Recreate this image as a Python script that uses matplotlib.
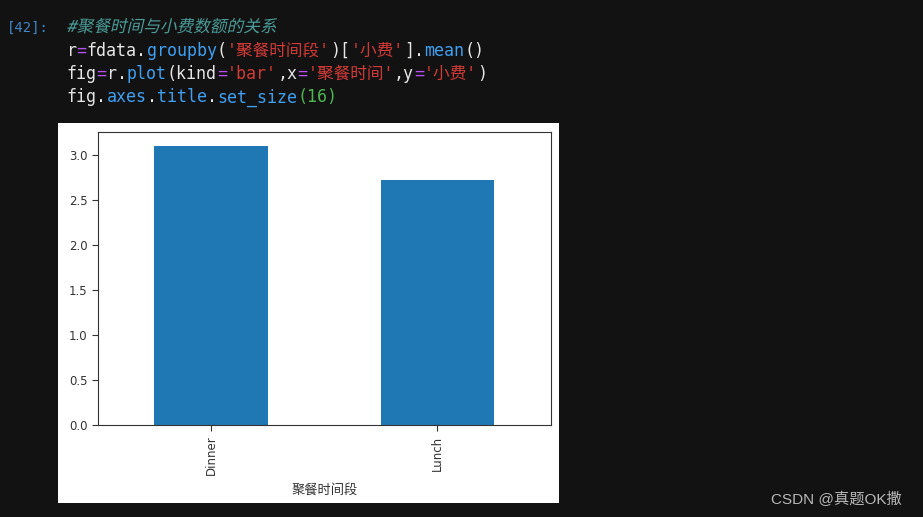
import matplotlib
matplotlib.use('Agg')
import matplotlib.pyplot as plt
from matplotlib.textpath import TextPath
from matplotlib.patches import PathPatch
from matplotlib.font_manager import FontProperties
from matplotlib.transforms import Affine2D, IdentityTransform

plt.rcParams['font.family'] = ['DejaVu Sans', 'Noto Sans CJK SC']

# data
categories = ['Dinner', 'Lunch']
tip_means = [3.10, 2.73]
x_label = '聚餐时间段'

# notebook cell text: (text, colour) segments per line
WHITE = '#e6e6e6'
PURPLE = '#b650f5'
BLUE = '#3f9ff0'
RED = '#d03a36'
GREEN = '#4fb552'
TEAL = '#4a9c98'
comment = '#聚餐时间与小费数额的关系'
code_lines = [
    [('r', WHITE), ('=', PURPLE), ('fdata.', WHITE), ('groupby', BLUE), ('(', WHITE),
     ("'聚餐时间段'", RED), (')[', WHITE), ("'小费'", RED), (']', WHITE), ('.', WHITE),
     ('mean', BLUE), ('()', WHITE)],
    [('fig', WHITE), ('=', PURPLE), ('r.', WHITE), ('plot', BLUE), ('(kind', WHITE), ('=', PURPLE),
     ("'bar'", RED), (',x', WHITE), ('=', PURPLE), ("'聚餐时间'", RED), (',y', WHITE), ('=', PURPLE),
     ("'小费'", RED), (')', WHITE)],
    [('fig.', WHITE), ('axes', BLUE), ('.', WHITE), ('title', BLUE), ('.', WHITE), ('set_size', BLUE),
     ('(16)', GREEN)],
]
baselines = [32, 55.5, 79, 102.5]

W, H = 923, 517
fig = plt.figure(figsize=(W / 100, H / 100), dpi=100)
fig.patch.set_facecolor('#121212')


def px(x, y):
    return x / W, 1 - y / H


mono = ['DejaVu Sans Mono', 'Noto Sans CJK SC']
fs = 12
ascii_w = 0.602 * fs * 100 / 72
cjk_w = fs * 100 / 72

fig.text(*px(7, baselines[0]), '[42]:', color='#3f83c4', fontsize=10, family=mono, va='baseline')

# italic comment line, drawn as a skewed text path so the CJK slants too
tp = TextPath((0, 0), comment, size=fs * 100 / 72, prop=FontProperties(family=mono))
tr = Affine2D().skew_deg(13, 0).translate(66.5, H - baselines[0])
fig.patches.append(PathPatch(tr.transform_path(tp), facecolor=TEAL, edgecolor='none',
                             transform=IdentityTransform(), figure=fig))

for i, line in enumerate(code_lines):
    x = 66.5
    for seg, col in line:
        fig.text(*px(x, baselines[i + 1]), seg, color=col, fontsize=fs, family=mono,
                 va='baseline', ha='left')
        x += sum(ascii_w if ord(c) < 128 else cjk_w for c in seg)

# white output image
bg = fig.add_axes([58 / W, 1 - 502.5 / H, (559 - 58) / W, (502.5 - 123) / H])
bg.set_facecolor('white')
bg.set_xticks([])
bg.set_yticks([])
for s in bg.spines.values():
    s.set_visible(False)

ax = fig.add_axes([97.7 / W, 1 - 425 / H, (550.7 - 97.7) / W, (425 - 132.3) / H])
pos = list(range(len(categories)))
ax.bar(pos, tip_means, width=0.5, color='#1f77b4')
ax.set_xlim(-0.5, len(categories) - 0.5)
ax.set_xticks(pos)
ax.set_xticklabels(categories, rotation=90)
ax.set_xlabel(x_label, fontsize=9.5, color='#333333', labelpad=6)
ax.tick_params(labelsize=8.5, colors='#333333', length=4, width=0.8)
for s in ax.spines.values():
    s.set_color('#333333')
    s.set_linewidth(0.8)

fig.text(*px(771, 504), 'CSDN @真题OK撒', color='#b8b8b8', fontsize=11,
         family=['Liberation Sans', 'Noto Sans CJK SC'], va='baseline')

fig.savefig('out.png', dpi=100, facecolor=fig.get_facecolor())
